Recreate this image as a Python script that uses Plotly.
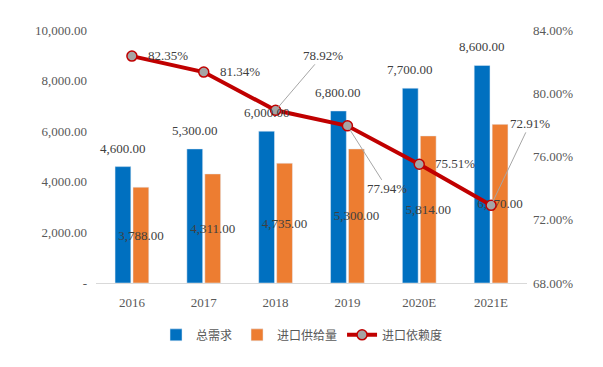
import plotly.graph_objects as go

categories = ["2016", "2017", "2018", "2019", "2020E", "2021E"]
total_demand = [4600, 5300, 6000, 6800, 7700, 8600]
import_supply = [3788, 4311, 4735, 5300, 5814, 6270]
import_dependency = [82.35, 81.34, 78.92, 77.94, 75.51, 72.91]

left_ticks = [0, 2000, 4000, 6000, 8000, 10000]
left_ticktext = ["-", "2,000.00", "4,000.00", "6,000.00", "8,000.00", "10,000.00"]
right_ticks = [68, 72, 76, 80, 84]
right_ticktext = ["68.00%", "72.00%", "76.00%", "80.00%", "84.00%"]

# label placement for the dependency series
dep_label_style = [
    dict(mode="right"), dict(mode="right"),
    dict(mode="lead", ax=47, ay=-55),
    dict(mode="lead", ax=40, ay=63),
    dict(mode="right"),
    dict(mode="lead", ax=39, ay=-82),
]

SERIF = "Liberation Serif, Times New Roman, serif"
CJK = "Noto Sans CJK SC, sans-serif"
TXT = "#595959"
LBL = "#404040"

pos = list(range(len(categories)))

fig = go.Figure()
fig.add_trace(go.Bar(
    x=pos, y=total_demand, name="总需求",
    marker_color="#0070C0",
))
fig.add_trace(go.Bar(
    x=pos, y=import_supply, name="进口供给量",
    marker_color="#ED7D31",
    text=[f"{v:,.2f}" for v in import_supply],
    textposition="inside", insidetextanchor="middle", constraintext="none",
    textangle=0,
    textfont=dict(family=SERIF, size=13, color=LBL),
))
fig.add_trace(go.Scatter(
    x=pos, y=import_dependency, name="进口依赖度", yaxis="y2",
    mode="lines+markers",
    line=dict(color="#C00000", width=4),
    marker=dict(size=10, color="#A5A5A5", line=dict(color="#C00000", width=1.5)),
))

# labels above the blue bars (offset to the blue bar of each group)
for p, v in zip(pos, total_demand):
    fig.add_annotation(x=p, y=v, xref="x", yref="y", text=f"{v:,.2f}",
                       showarrow=False, xanchor="center", yanchor="bottom",
                       xshift=-9, yshift=9,
                       font=dict(family=SERIF, size=13, color=LBL))

for p, v, st in zip(pos, import_dependency, dep_label_style):
    if st["mode"] == "right":
        fig.add_annotation(x=p, y=v, xref="x", yref="y2", text=f"{v:.2f}%",
                           showarrow=False, xanchor="left", xshift=14, yshift=1,
                           font=dict(family=SERIF, size=13, color=LBL))
    else:
        fig.add_annotation(x=p, y=v, xref="x", yref="y2", text=f"{v:.2f}%",
                           showarrow=True, arrowhead=0, arrowwidth=1,
                           arrowcolor="#A6A6A6", ax=st["ax"], ay=st["ay"],
                           standoff=4,
                           font=dict(family=SERIF, size=13, color=LBL))

fig.update_layout(
    width=595, height=359,
    margin=dict(l=88, r=76, t=22, b=84),
    paper_bgcolor="white", plot_bgcolor="white",
    barmode="group", bargap=0.5, bargroupgap=0.12,
    font=dict(family=SERIF, size=13, color=TXT),
    xaxis=dict(range=[-0.5, len(categories) - 0.5], tickvals=pos, ticktext=categories,
               showgrid=False, zeroline=False, showline=True, linecolor="#D9D9D9",
               linewidth=1, ticks="", ticklabelstandoff=7,
               tickfont=dict(family=SERIF, size=13, color=TXT)),
    yaxis=dict(range=[0, 10000], tickvals=left_ticks, ticktext=left_ticktext,
               showgrid=False, zeroline=False, showline=False, ticks="",
               ticklabelstandoff=8,
               tickfont=dict(family=SERIF, size=13, color=TXT)),
    yaxis2=dict(range=[68, 84], tickvals=right_ticks, ticktext=right_ticktext,
                overlaying="y", side="right", showgrid=False, zeroline=False,
                showline=False, ticks="", ticklabelstandoff=5,
                tickfont=dict(family=SERIF, size=13, color=TXT)),
    legend=dict(orientation="h", x=0.478, xanchor="center", y=-0.205, yanchor="middle",
                font=dict(family=CJK, size=12, color=TXT),
                traceorder="normal"),
    showlegend=True,
)

fig.write_html("out.html")
